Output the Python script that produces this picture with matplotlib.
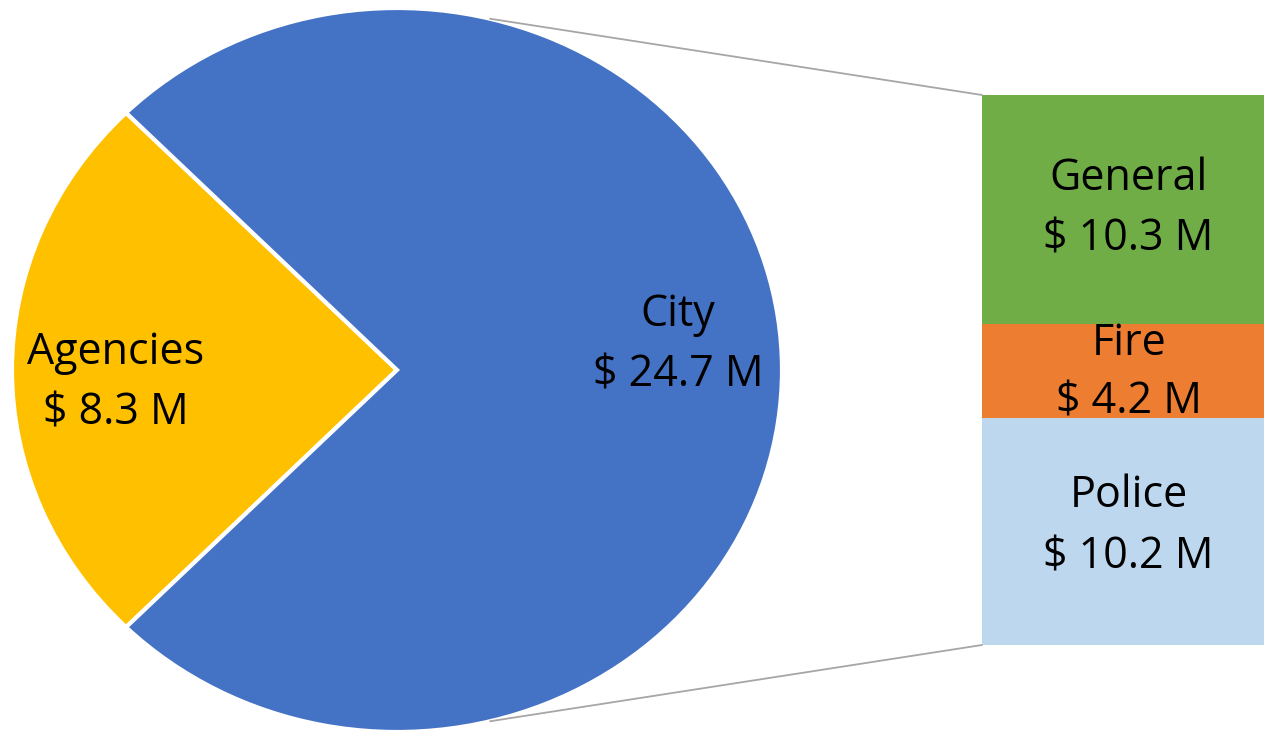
import numpy as np
import matplotlib
matplotlib.use("Agg")
import matplotlib.pyplot as plt
from matplotlib.patches import ConnectionPatch

# Data
pie_labels = ["Agencies", "City"]
pie_values = [8.3, 24.7]
pie_colors = ["#FFC000", "#4472C4"]

bar_labels = ["Police", "Fire", "General"]   # bottom to top
bar_values = [10.2, 4.2, 10.3]
bar_colors = ["#BDD7EE", "#ED7D31", "#70AD47"]

plt.rcParams['font.family'] = ['Open Sans', 'DejaVu Sans']
FS = 31

W, H = 1264, 731
fig = plt.figure(figsize=(W / 100, H / 100), dpi=100)

# Pie axes (slightly elliptical as in reference)
px0, py0, pw, ph = 12, 8, 770, 724
axp = fig.add_axes([px0 / W, 1 - (py0 + ph) / H, pw / W, ph / H])
total = sum(pie_values)
agency_angle = pie_values[0] / total * 360
start = 180 - agency_angle / 2
wedges, _ = axp.pie(pie_values, colors=pie_colors, startangle=start, counterclock=True,
                    wedgeprops=dict(edgecolor="white", linewidth=3))
axp.set_aspect('auto')
axp.set_xlim(-1, 1)
axp.set_ylim(-1, 1)
axp.axis('off')

# pie labels
cum = start
for lab, val in zip(pie_labels, pie_values):
    ang = cum + val / total * 360 / 2
    cum += val / total * 360
    r = 0.73
    x = r * np.cos(np.radians(ang))
    y = r * np.sin(np.radians(ang)) + (0.068 if lab == "City" else -0.035)
    axp.text(x, y, f"{lab}\n$ {val} M", ha='center', va='center', fontsize=FS,
             linespacing=1.48, color='#000000')

# Bar axes
bx0, by0, bw, bh = 982, 95, 282, 550
axb = fig.add_axes([bx0 / W, 1 - (by0 + bh) / H, bw / W, bh / H])
offsets = {"Police": 0.22, "Fire": -0.08, "General": 0.02}
bottom = 0
for lab, val, col in zip(bar_labels, bar_values, bar_colors):
    axb.bar(0.5, val, width=1.0, bottom=bottom, color=col, linewidth=0)
    ymid = bottom + val / 2
    axb.text(0.52, ymid + offsets[lab], f"{lab}\n$ {val} M", ha='center', va='center',
             fontsize=FS, linespacing=1.48 if lab != "Fire" else 1.43, color='#000000')
    bottom += val
axb.set_xlim(0, 1)
axb.set_ylim(0, bottom)
axb.axis('off')

# Connector lines
a = np.radians(76)
for sgn, yb in [(1, bottom), (-1, 0)]:
    con = ConnectionPatch(xyA=(np.cos(a), sgn * np.sin(a)), coordsA=axp.transData,
                          xyB=(0, yb), coordsB=axb.transData,
                          color="#A6A6A6", linewidth=1.3)
    fig.add_artist(con)

fig.savefig("out.png", dpi=100, facecolor="white")
